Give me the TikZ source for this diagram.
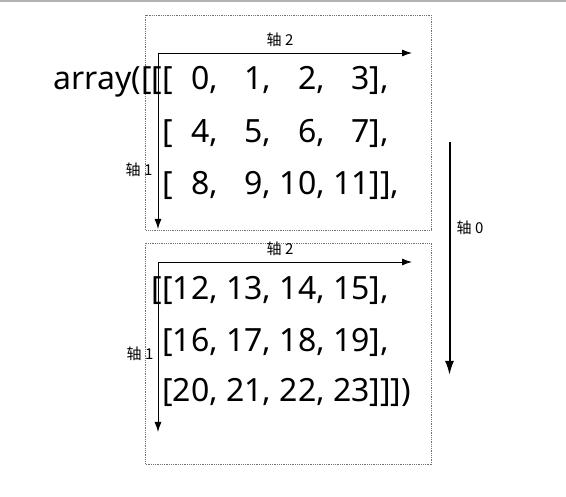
\documentclass[tikz,border=0pt]{standalone}
\usepackage{fontspec}
\setmainfont{Noto Sans}
\newfontfamily\cjk{Noto Sans CJK SC}
\usetikzlibrary{arrows.meta}

\tikzset{
    row/.style={anchor=base west, inner sep=0pt, font=\fontsize{32}{32}\selectfont},
    axlabel/.style={inner sep=0pt, font=\cjk\fontsize{15}{15}\selectfont},
    axis/.style={-{Latex[length=10pt, width=7pt]}, line width=.9pt},
    bigaxis/.style={-{Latex[length=14pt, width=9pt]}, line width=2pt},
    frame/.style={color=black!55, densely dotted, line width=.8pt}
}

\begin{document}
\begin{tikzpicture}[x=1pt, y=-1pt]
    \useasboundingbox (0,0) rectangle (566,497);
    \draw[color=black!30, line width=2pt] (0,1) -- (566,1);

    % first block
    \draw[frame] (145.5,15) rectangle (431,230);
    \node[row] (r0) at (162,90) {\llap{array([[}[\phantom{1}0, \phantom{1}1, \phantom{1}2, \phantom{1}3],};
    \node[row] (r1) at (162,143) {[\phantom{1}4, \phantom{1}5, \phantom{1}6, \phantom{1}7],};
    \node[row] (r2) at (162,195) {[\phantom{1}8, \phantom{1}9, 10, 11]],};
    \coordinate (oa) at (158,53);
    \coordinate (ea) at (412,53);
    \coordinate (sa) at (158,229);
    \draw[axis] (oa) -- (ea);
    \draw[axis] (oa) -- (sa);
    \node[axlabel] (ta2) at (280,40) {轴 2};
    \node[axlabel] (ta1) at (139,170) {轴 1};

    % second block
    \draw[frame] (145.5,243) rectangle (431,464);
    \node[row] (r3) at (162,300) {\llap{[}[12, 13, 14, 15],};
    \node[row] (r4) at (162,352) {[16, 17, 18, 19],};
    \node[row] (r5) at (162,402) {[20, 21, 22, 23]]])};
    \coordinate (ob) at (158,262);
    \coordinate (eb) at (412,262);
    \coordinate (sb) at (158,432);
    \draw[axis] (ob) -- (eb);
    \draw[axis] (ob) -- (sb);
    \node[axlabel] (tb2) at (280,249) {轴 2};
    \node[axlabel] (tb1) at (140,354) {轴 1};

    % axis 0
    \coordinate (a0) at (449.5,142);
    \coordinate (b0) at (449.5,375);
    \draw[bigaxis] (a0) -- (b0);
    \node[axlabel] (t0) at (470,228) {轴 0};
\end{tikzpicture}
\end{document}
